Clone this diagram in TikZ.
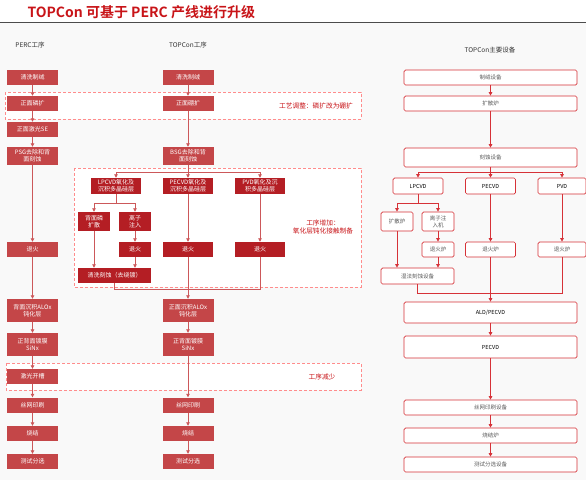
\documentclass[tikz,border=0pt]{standalone}
\usepackage{fontspec}
\setmainfont{Noto Sans CJK SC}[BoldFont={Noto Sans CJK SC Bold}]
\usetikzlibrary{arrows.meta}

\definecolor{percred}{RGB}{196,70,72}
\definecolor{addred}{RGB}{180,30,36}
\definecolor{linered}{RGB}{204,88,90}
\definecolor{eqred}{RGB}{214,50,56}
\definecolor{titlered}{RGB}{200,20,24}

\tikzset{
  stepred/.style={fill=percred, text=white, minimum width=51pt, minimum height=15pt,
    inner sep=0pt, align=center, font=\fontsize{6}{7}\selectfont},
  newred/.style={stepred, fill=addred, minimum width=50pt},
  equip/.style={draw=eqred, fill=white, rounded corners=1.5pt, line width=0.7pt,
    text=black!65, minimum width=173pt, minimum height=15pt, inner sep=0pt,
    align=center, font=\fontsize{5.5}{7}\selectfont},
  flow/.style={draw=linered, line width=0.8pt},
  eqflow/.style={draw=eqred, line width=0.8pt},
  tip/.style={-{Triangle[length=3.5pt,width=3.5pt]}},
  zone/.style={draw=red!45, dash pattern=on 3pt off 2pt, fill=white, line width=0.6pt},
  note/.style={text=titlered, align=center, font=\fontsize{6.7}{8.5}\selectfont},
  head/.style={text=black!80, font=\fontsize{6.5}{8}\selectfont}
}

\begin{document}
\begin{tikzpicture}[x=1pt,y=-1pt]
\useasboundingbox (0,0) rectangle (586,480);
\fill[gray!5] (0,23) rectangle (586,480);
\draw[black!70, line width=1.2pt] (0,22.5) -- (586,22.5);
\node[anchor=west, text=titlered, font=\fontsize{14}{16}\selectfont\bfseries] (title) at (24,12) {TOPCon 可基于 PERC 产线进行升级};

\node[head] (hperc) at (30,45) {PERC工序};
\node[head] (htop) at (188,45) {TOPCon工序};
\node[head] (heq) at (490,50) {TOPCon主要设备};

% dashed zones
\draw[zone] (5,92) rectangle (361,119);
\draw[zone] (74,168) rectangle (361,287);
\draw[zone] (6,363) rectangle (361,390);
\node[note] (n1) at (316,106) {工艺调整：磷扩改为硼扩};
\node[note] (n2) at (323,227) {工序增加：\\氧化层钝化接触制备};
\node[note] (n3) at (322,377) {工序减少};

% PERC
\node[stepred] (p1) at (32.5,77.5) {清洗制绒};
\node[stepred] (p2) at (32.5,103.5) {正面磷扩};
\node[stepred] (p3) at (32.5,129.5) {正面激光SE};
\node[stepred, minimum height=18pt] (p4) at (32.5,156) {PSG去除和背\\面刻蚀};
\node[stepred] (p5) at (32.5,249.5) {退火};
\node[stepred, minimum height=23pt] (p6) at (32.5,310.5) {背面沉积ALOx\\钝化层};
\node[stepred, minimum height=23pt] (p7) at (32.5,344.5) {正背面镀膜\\SiNx};
\node[stepred] (p8) at (32.5,376.5) {激光开槽};
\node[stepred] (p9) at (32.5,405) {丝网印刷};
\node[stepred] (p10) at (32.5,433.5) {烧结};
\node[stepred] (p11) at (32.5,461.5) {测试分选};
\foreach \a/\b in {p1/p2,p2/p3,p3/p4,p4/p5,p5/p6,p6/p7,p7/p8,p8/p9,p9/p10,p10/p11}
  \draw[flow,tip] (\a) -- (\b);

% TOPCon
\node[stepred] (t1) at (188,77.5) {清洗制绒};
\node[stepred] (t2) at (188,103.5) {正面硼扩};
\node[stepred, minimum height=18pt] (t3) at (188,156) {BSG去除和背\\面刻蚀};
\node[newred, minimum height=16pt] (lp) at (116,186) {LPCVD氧化及\\沉积多晶硅层};
\node[newred, minimum height=16pt] (pe) at (188,186) {PECVD氧化及\\沉积多晶硅层};
\node[newred, minimum height=16pt] (pv) at (260,186) {PVD氧化及沉\\积多晶硅层};
\node[newred, minimum width=32pt, minimum height=19pt] (ps) at (94,221.5) {背面磷\\扩散};
\node[newred, minimum width=32pt, minimum height=19pt] (ii) at (135,221.5) {离子\\注入};
\node[newred, minimum width=32pt] (a1) at (135,249.5) {退火};
\node[newred] (a2) at (188,249.5) {退火};
\node[newred] (a3) at (260,249.5) {退火};
\node[newred, minimum width=73pt] (cl) at (114.5,275.5) {清洗刻蚀（去绕镀）};
\node[stepred, minimum height=23pt] (t5) at (188,310.5) {正面沉积ALOx\\钝化层};
\node[stepred, minimum height=23pt] (t6) at (188,344.5) {正背面镀膜\\SiNx};
\node[stepred] (t7) at (188,405) {丝网印刷};
\node[stepred] (t8) at (188,433.5) {烧结};
\node[stepred] (t9) at (188,461.5) {测试分选};
\coordinate (s1) at (188,172);
\coordinate (s2) at (116,203);
\coordinate (s3) at (188,289);
\foreach \a/\b in {t1/t2,t2/t3,pe/a2,pv/a3,ii/a1,a2/t5,t5/t6,t6/t7,t7/t8,t8/t9}
  \draw[flow,tip] (\a) -- (\b);
\draw[flow] (t3) -- (s1);
\draw[flow,tip] (s1) -| (lp);
\draw[flow,tip] (s1) -- (pe);
\draw[flow,tip] (s1) -| (pv);
\draw[flow] (lp) -- (s2);
\draw[flow,tip] (s2) -| (ps);
\draw[flow,tip] (s2) -| (ii);
\draw[flow,tip] (ps) -- (ps |- cl.north);
\draw[flow,tip] (a1) -- (a1 |- cl.north);
\draw[flow] (cl.south) |- (s3);
\draw[flow] (a3.south) |- (s3);

% equipment
\node[equip] (e1) at (490.5,77.5) {制绒设备};
\node[equip] (e2) at (490.5,103.5) {扩散炉};
\node[equip, minimum height=19pt] (e3) at (490.5,157.5) {刻蚀设备};
\node[equip, minimum width=50pt, minimum height=16pt, text=black] (e4) at (418,186) {LPCVD};
\node[equip, minimum width=50pt, minimum height=16pt, text=black] (e5) at (490.5,186) {PECVD};
\node[equip, minimum width=48pt, minimum height=16pt, text=black] (e6) at (562,186) {PVD};
\node[equip, minimum width=32pt, minimum height=19pt] (e7) at (397,221.5) {扩散炉};
\node[equip, minimum width=32pt, minimum height=19pt] (e8) at (438,221.5) {离子注\\入机};
\node[equip, minimum width=32pt] (e9) at (438,249.5) {退火炉};
\node[equip, minimum width=50pt] (e10) at (490.5,249.5) {退火炉};
\node[equip, minimum width=48pt] (e11) at (562,249.5) {退火炉};
\node[equip, minimum width=73pt, minimum height=16pt] (e12) at (417.5,276) {湿法刻蚀设备};
\node[equip, minimum height=21pt, text=black] (e13) at (490.5,312.5) {ALD/PECVD};
\node[equip, minimum height=22pt, text=black] (e14) at (490.5,347) {PECVD};
\node[equip] (e15) at (490.5,407.5) {丝网印刷设备};
\node[equip] (e16) at (490.5,435.5) {烧结炉};
\node[equip] (e17) at (490.5,464.5) {测试分选设备};
\coordinate (r1) at (490.5,172);
\coordinate (r2) at (418,203);
\coordinate (r3) at (490.5,293);
\foreach \a/\b in {e1/e2,e2/e3,e5/e10,e6/e11,e8/e9,e10/e13,e13/e14,e14/e15,e15/e16,e16/e17}
  \draw[eqflow,tip] (\a) -- (\b);
\draw[eqflow] (e3) -- (r1);
\draw[eqflow,tip] (r1) -| (e4);
\draw[eqflow,tip] (r1) -- (e5);
\draw[eqflow,tip] (r1) -| (e6);
\draw[eqflow] (e4) -- (r2);
\draw[eqflow,tip] (r2) -| (e7);
\draw[eqflow,tip] (r2) -| (e8);
\draw[eqflow,tip] (e7) -- (e7 |- e12.north);
\draw[eqflow,tip] (e9) -- (e9 |- e12.north);
\draw[eqflow] (e12.south) |- (r3);
\draw[eqflow] (e11.south) |- (r3);
\end{tikzpicture}
\end{document}
